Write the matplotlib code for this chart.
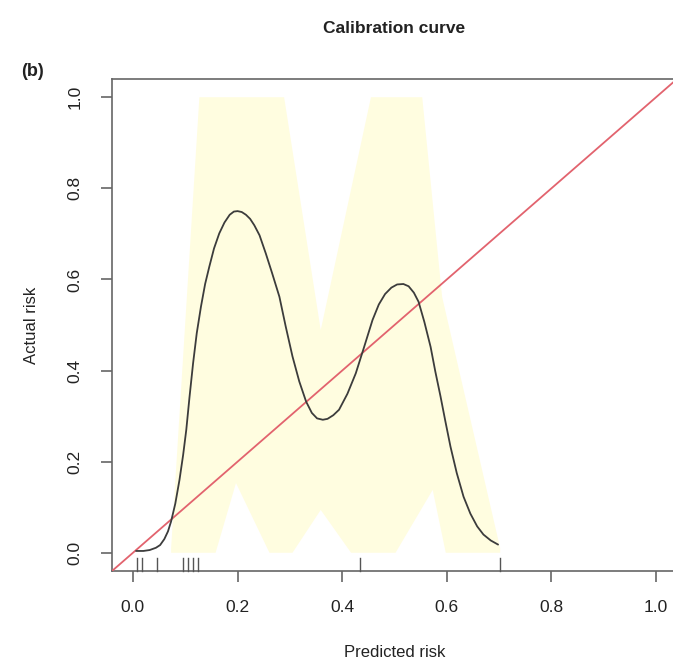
import numpy as np
import matplotlib
matplotlib.use("Agg")
import matplotlib.pyplot as plt
import matplotlib.transforms as mtransforms

plt.rcParams['font.family'] = ['Liberation Sans', 'DejaVu Sans']

# smoothed calibration curve
curve_x = [0.006, 0.020, 0.032, 0.044, 0.052, 0.060, 0.067, 0.073, 0.081, 0.089,
           0.096, 0.102, 0.108, 0.115, 0.122, 0.130, 0.138, 0.146, 0.155, 0.165,
           0.175, 0.185, 0.193, 0.200, 0.208, 0.216, 0.224, 0.232, 0.242, 0.254,
           0.266, 0.280, 0.292, 0.305, 0.318, 0.331, 0.342, 0.352, 0.363, 0.372,
           0.383, 0.394, 0.410, 0.426, 0.442, 0.458, 0.470, 0.482, 0.494, 0.505,
           0.517, 0.527, 0.537, 0.546, 0.557, 0.569, 0.578, 0.588, 0.597, 0.607,
           0.619, 0.632, 0.645, 0.658, 0.670, 0.684, 0.698]
curve_y = [0.004, 0.004, 0.006, 0.011, 0.017, 0.030, 0.047, 0.069, 0.108, 0.160,
           0.215, 0.270, 0.340, 0.416, 0.482, 0.540, 0.590, 0.628, 0.668, 0.701,
           0.725, 0.742, 0.749, 0.750, 0.748, 0.742, 0.733, 0.719, 0.697, 0.657,
           0.614, 0.562, 0.497, 0.431, 0.376, 0.332, 0.307, 0.295, 0.292, 0.294,
           0.302, 0.314, 0.349, 0.394, 0.452, 0.511, 0.545, 0.568, 0.582, 0.589,
           0.590, 0.585, 0.571, 0.551, 0.507, 0.452, 0.398, 0.343, 0.290, 0.233,
           0.175, 0.123, 0.086, 0.058, 0.040, 0.027, 0.018]

# confidence band outline
upper_x = [0.073, 0.127, 0.289, 0.359, 0.455, 0.553, 0.591, 0.702]
upper_y = [0.010, 1.000, 1.000, 0.489, 1.000, 1.000, 0.562, 0.010]
lower_x = [0.073, 0.158, 0.197, 0.261, 0.305, 0.359, 0.417, 0.502, 0.573, 0.598, 0.702]
lower_y = [0.000, 0.000, 0.153, 0.000, 0.000, 0.094, 0.000, 0.000, 0.138, 0.000, 0.000]

# observed predicted risks (rug)
rug_x = [0.007, 0.018, 0.046, 0.096, 0.105, 0.115, 0.124, 0.434, 0.701]

ticks = [0.0, 0.2, 0.4, 0.6, 0.8, 1.0]
tick_labels = ["0.0", "0.2", "0.4", "0.6", "0.8", "1.0"]

fig = plt.figure(figsize=(6.73, 6.67), dpi=100)
ax = fig.add_axes([112 / 673, 1 - 571 / 667, 565 / 673, 492 / 667])

band_x = np.r_[upper_x, lower_x[::-1]]
band_y = np.r_[upper_y, lower_y[::-1]]
ax.fill(band_x, band_y, color='#FFFDE0', lw=0, zorder=1)

ax.plot([-0.04, 1.04], [-0.04, 1.04], color='#E2636E', lw=1.3, zorder=3)
ax.plot(curve_x, curve_y, color='#3c3c3c', lw=1.3, zorder=4,
        solid_joinstyle='round', solid_capstyle='round')

trans = mtransforms.blended_transform_factory(ax.transData, ax.transAxes)
for rx in rug_x:
    ax.plot([rx, rx], [0.0, 0.027], color='#555555', lw=1.0, transform=trans,
            zorder=5, clip_on=False)

ax.set_xlim(-0.04, 1.04)
ax.set_ylim(-0.04, 1.04)
ax.set_xticks(ticks)
ax.set_xticklabels(tick_labels)
ax.set_yticks(ticks)
ax.set_yticklabels(tick_labels, rotation=90, va='center')

for sp in ax.spines.values():
    sp.set_color('#666666')
    sp.set_linewidth(1.2)
ax.tick_params(direction='out', length=8, width=1.2, color='#666666',
               labelsize=12.5, labelcolor='#222222', pad=13)

ax.set_xlabel("Predicted risk", fontsize=12, color='#222222')
ax.xaxis.set_label_coords(0.5, -0.165)
ax.xaxis.label.set_va('center')
ax.set_ylabel("Actual risk", fontsize=12, color='#222222')
ax.yaxis.set_label_coords(-0.143, 0.5)
ax.yaxis.label.set_va('center')

ax.set_title("Calibration curve", fontsize=12.5, fontweight='bold', pad=33,
             color='#222222')
fig.text(32 / 673, 1 - 72 / 667, "(b)", fontsize=13, fontweight='bold',
         ha='center', va='center', color='#222222')

fig.savefig("out.png", dpi=100)
